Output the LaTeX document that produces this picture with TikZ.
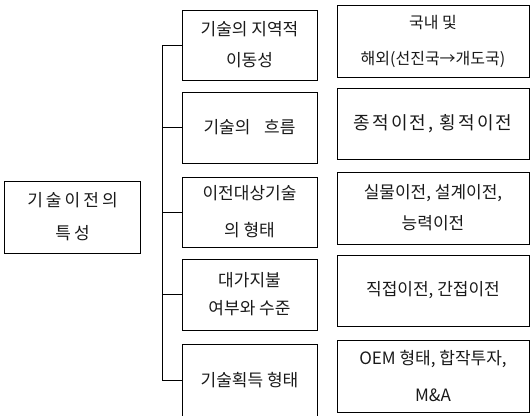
\documentclass[tikz,border=0pt]{standalone}
\usepackage{fontspec}
\setmainfont{Noto Sans CJK KR}
\tikzset{
  tbox/.style={draw, line width=1bp, text=black!90, align=center, inner sep=0pt,
    font=\fontsize{17bp}{31bp}\selectfont},
  midbox/.style={tbox, minimum width=135bp, minimum height=70bp},
  resbox/.style={tbox, minimum width=192bp, minimum height=72bp},
  wide/.style={font=\fontsize{17bp}{33bp}\selectfont\addfontfeature{LetterSpace=18}},
  narrow/.style={font=\fontsize{16bp}{36bp}\selectfont},
  link/.style={line width=0.9bp}
}
\begin{document}
\begin{tikzpicture}[x=1bp, y=-1bp]
  \useasboundingbox (0,0) rectangle (530,415);

  %% left
  \node[tbox, wide, minimum width=135bp, minimum height=72bp] (root) at (72.5,217) {기술이전의\\특성};

  %% middle column
  \node[midbox] (m1) at (249.5,45) {기술의 지역적\\이동성};
  \node[midbox, minimum height=71bp] (m2) at (249.5,127.5) {기술의\hspace{0.8em}흐름};
  \node[midbox, font=\fontsize{17bp}{37bp}\selectfont] (m3) at (249.5,212) {이전대상기술\\의 형태};
  \node[midbox, minimum height=71bp, font=\fontsize{17bp}{28bp}\selectfont] (m4) at (249.5,294.5) {대가지불\\여부와 수준};
  \node[midbox, minimum height=72bp] (m5) at (249.5,380) {기술획득 형태};

  %% right column
  \node[resbox, narrow] (r1) at (433,41) {국내 및\\해외(선진국→개도국)};
  \node[resbox, minimum height=71bp, font=\fontsize{18bp}{31bp}\selectfont\addfontfeature{LetterSpace=12}] (r2) at (433,123.5) {종적이전, 횡적이전};
  \node[resbox] (r3) at (433,208) {실물이전, 설계이전,\\능력이전};
  \node[resbox, minimum height=71bp] (r4) at (433,290.5) {직접이전, 간접이전};
  \node[resbox, font=\fontsize{17bp}{37bp}\selectfont] (r5) at (433,376) {OEM 형태, 합작투자,\\M\&A};

  %% bracket
  \draw[link] (m1.west) -- ++(-19,0) |- (m5.west);
  \foreach \n in {m2,m3,m4}
    \draw[link] (\n.west) -- ++(-19,0);
\end{tikzpicture}
\end{document}
